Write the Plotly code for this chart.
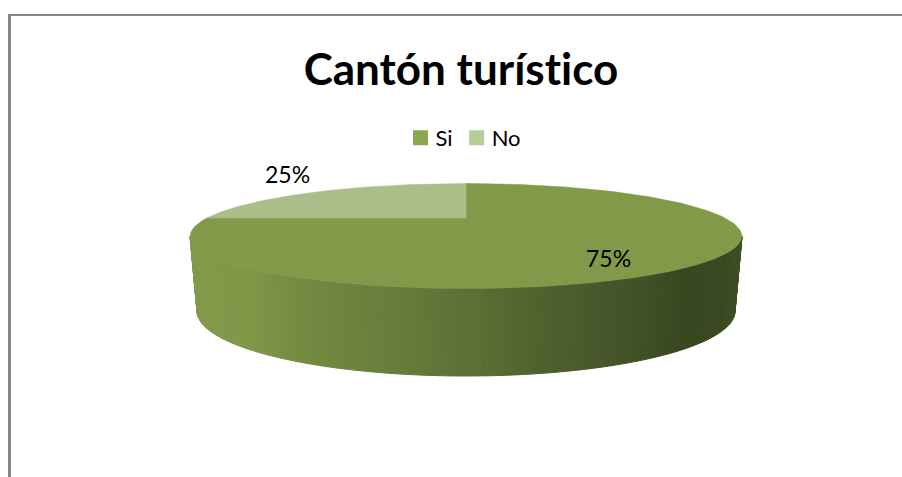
import math
import numpy as np
import plotly.graph_objects as go

# --- data ---
TITLE = "Cantón turístico"
categories = ["Si", "No"]
values = [75, 25]

# --- style ---
FONT = "Lato, Carlito, 'Open Sans', sans-serif"
face_colors = ["#82994A", "#ABBD88"]
legend_colors = ["#8BA84F", "#B7CD96"]
BORDER = "#868686"
# side gradient stops (horizontal position across the disc, colour)
side_stops = [(0.0, (130, 153, 74)), (0.10, (127, 152, 72)), (0.22, (113, 137, 64)),
              (0.40, (102, 122, 58)), (0.52, (92, 110, 52)), (0.68, (76, 93, 46)),
              (0.82, (66, 80, 38)), (0.90, (57, 71, 33)), (0.97, (58, 72, 33)), (1.0, (62, 78, 36))]

# --- perspective geometry of the disc, in axis units ---
CX, APEX_Y, HALF_W, HALF_H, PERSP = 466, 218, 259, 46.3, 0.343
TOP_CY, TOP_RX, TOP_RY = 236, 276, 52.5
BOT_CY, BOT_RX, BOT_RY = 311, 269, 65


def rim(theta):
    d = 1 + PERSP * np.cos(theta)
    return CX + HALF_W * np.sin(theta) / d, APEX_Y - HALF_H * np.cos(theta) / d


def side_color(p):
    for (p0, c0), (p1, c1) in zip(side_stops, side_stops[1:]):
        if p <= p1:
            f = (p - p0) / (p1 - p0)
            return "rgb(%d,%d,%d)" % tuple(round(a + (b - a) * f) for a, b in zip(c0, c1))
    return "rgb(%d,%d,%d)" % side_stops[-1][1]


fig = go.Figure()

# side wall, as thin shaded strips along the front half of the disc
edges = np.linspace(math.pi, 0, 161)
for t0, t1 in zip(edges[:-1], edges[1:]):
    ts = np.linspace(t0, t1, 3)
    xs = np.concatenate([CX + TOP_RX * np.cos(ts), (CX + BOT_RX * np.cos(ts))[::-1]])
    ys = np.concatenate([TOP_CY + TOP_RY * np.sin(ts), (BOT_CY + BOT_RY * np.sin(ts))[::-1]])
    col = side_color((math.cos((t0 + t1) / 2) + 1) / 2)
    fig.add_trace(go.Scatter(x=xs.tolist() + [xs[0]], y=ys.tolist() + [ys[0]], mode="lines",
                             fill="toself", fillcolor=col, line=dict(color=col, width=1),
                             hoverinfo="skip", showlegend=False))

# top faces, slices computed from the values
start = 0.0
total = sum(values)
for cat, val, col in zip(categories, values, face_colors):
    end = start + 2 * math.pi * val / total
    th = np.linspace(start, end, 200)
    xr, yr = rim(th)
    fig.add_trace(go.Scatter(x=[CX] + xr.tolist() + [CX], y=[APEX_Y] + yr.tolist() + [APEX_Y],
                             mode="lines", fill="toself", fillcolor=col, line=dict(color=col, width=0.5),
                             name=cat, hoverinfo="skip", showlegend=False))
    start = end

# legend
for cat, col in zip(categories, legend_colors):
    fig.add_trace(go.Scatter(x=[None], y=[None], mode="markers", name=cat,
                             marker=dict(symbol="square", size=15, color=col)))

label_pos = [(608, 258), (287, 174)]
annotations = [dict(x=x, y=y, xref="x", yref="y", text=f"{v}%", showarrow=False,
                    font=dict(family=FONT, size=23, color="#000000"))
               for v, (x, y) in zip(values, label_pos)]

shapes = [
    dict(type="line", xref="x", yref="y", x0=9, x1=902, y0=15, y1=15, line=dict(color=BORDER, width=2)),
    dict(type="line", xref="x", yref="y", x0=9.5, x1=9.5, y0=14, y1=477, line=dict(color=BORDER, width=3)),
]

fig.update_layout(
    width=902, height=477, autosize=False,
    margin=dict(l=0, r=0, t=0, b=0),
    paper_bgcolor="#FFFFFF", plot_bgcolor="#FFFFFF",
    title=dict(text=f"<b>{TITLE}</b>", x=461 / 902, xanchor="center", y=1 - 70 / 477, yanchor="middle",
               font=dict(family=FONT, size=44, color="#000000")),
    xaxis=dict(range=[0, 902], visible=False, fixedrange=True),
    yaxis=dict(range=[477, 0], visible=False, fixedrange=True),
    legend=dict(orientation="h", x=469 / 902, xanchor="center", y=1 - 138 / 477, yanchor="middle",
                font=dict(family=FONT, size=22, color="#000000"), bgcolor="rgba(0,0,0,0)",
                itemwidth=30, tracegroupgap=0),
    annotations=annotations, shapes=shapes,
)

page_fix = """
document.body.style.margin = '0';
document.documentElement.style.overflow = 'hidden';
var s = document.createElement('style');
s.textContent = 'svg text { font-variant-ligatures: none !important; font-feature-settings: "liga" 0, "clig" 0, "dlig" 0 !important; }';
document.head.appendChild(s);
document.querySelectorAll('.legend .legendtext').forEach(function (t) {
  t.setAttribute('x', parseFloat(t.getAttribute('x')) - 5);
});
var items = document.querySelectorAll('.legend .traces');
if (items.length > 1) {
  var m = /translate\\(([-\\d.]+),\\s*([-\\d.]+)\\)/.exec(items[1].getAttribute('transform'));
  if (m) items[1].setAttribute('transform', 'translate(' + (parseFloat(m[1]) - 6) + ',' + m[2] + ')');
}
"""
fig.write_html("out.html", post_script=page_fix, config={"displayModeBar": False})
